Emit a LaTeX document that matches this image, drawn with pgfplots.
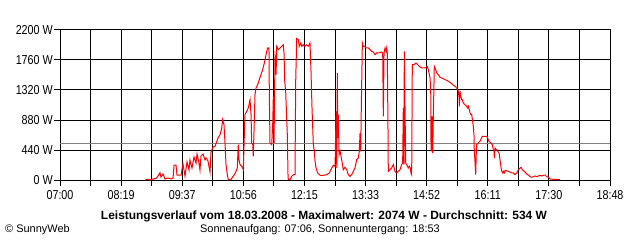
\documentclass[border=0pt]{standalone}
\usepackage{fontspec}
\setmainfont{Liberation Sans}
\newfontfamily\narrowfont{Liberation Sans}[FakeStretch=0.83]
\usepackage{pgfplots}
\pgfplotsset{compat=1.18}
\begin{document}
\begin{tikzpicture}[x=1bp,y=1bp]
\useasboundingbox (0,0) rectangle (640,240);
\begin{axis}[
  at={(60bp,60bp)}, anchor=south west,
  scale only axis, width=550bp, height=150bp,
  xmin=0, xmax=708, ymin=0, ymax=2200,
  xtick={0,39.333,78.667,118,157.333,196.667,236,275.333,314.667,354,393.333,432.667,472,511.333,550.667,590,629.333,668.667,708},
  xticklabels={07:00,{},08:19,{},09:37,{},10:56,{},12:15,{},13:33,{},14:52,{},16:11,{},17:30,{},18:48},
  ytick={0,440,880,1320,1760,2200},
  yticklabels={0 W,440 W,880 W,1320 W,1760 W,2200 W},
  xtick pos=lower, ytick pos=left,
  tick align=outside, major tick length=6bp,
  grid=major, major grid style={black, line width=1bp},
  axis line style={black, line width=1bp},
  tick style={black, line width=1bp},
  tick label style={font=\narrowfont\fontsize{13}{15}\selectfont},
  xticklabel style={inner sep=1bp, yshift=-3bp},
  yticklabel style={inner sep=1bp},
  axis on top=false,
]
\addplot[gray, line width=1bp, no markers] coordinates {(0,534) (708,534)};
\addplot[red, line width=1bp, no markers] coordinates {
(109.4,0) (113.3,10) (115.9,0) (119.7,15) (123.6,22) (126.2,59) (128.7,107) (130.0,44) (132.6,88) (135.2,15) (139.0,29) (142.9,15) (145.5,29) (146.8,220) (149.3,220) (150.6,73) (155.8,73) (158.3,235) (160.9,59) (163.5,264) (166.1,147) (167.3,293) (169.9,176) (172.5,337) (175.1,249) (176.4,381) (178.9,249) (180.2,147) (181.5,352) (184.1,381) (186.7,293) (188.0,323) (190.5,279) (193.1,117) (194.4,411) (197.0,484) (199.5,494) (202.1,572) (203.8,626) (206.0,664) (208.1,758) (209.4,885) (211.1,811) (212.4,543) (213.7,225) (215.4,78) (216.7,5) (220.1,5) (221.8,40) (224.4,78) (226.6,127) (228.2,176) (229.5,518) (230.4,298) (231.7,225) (233.9,201) (236.0,151) (236.9,518) (238.1,958) (240.3,1008) (242.4,1056) (243.7,1129) (244.6,1178) (245.9,958) (246.8,543) (248.1,518) (248.8,347) (250.1,861) (251.0,1251) (252.3,1349) (254.5,1398) (256.5,1471) (258.7,1545) (260.9,1618) (263.0,1716) (264.8,1814) (266.1,1887) (267.4,1936) (269.0,1936) (269.4,1324) (270.3,543) (272.5,518) (273.8,811) (274.6,1227) (275.5,543) (276.8,1838) (277.7,1789) (278.1,1545) (279.0,1961) (281.0,1911) (283.2,1936) (285.4,1961) (287.4,1984) (288.4,1858) (289.3,1447) (290.5,1301) (291.8,909) (292.6,664) (293.5,78) (293.9,5) (296.1,5) (298.2,54) (300.3,78) (302.5,78) (303.4,1447) (304.7,2074) (306.8,2058) (308.0,1961) (309.9,2009) (311.2,1961) (313.3,1984) (315.4,1961) (317.6,1984) (319.6,1961) (321.8,2009) (323.1,1594) (324.4,1056) (326.1,518) (327.4,421) (328.3,274) (329.6,176) (331.7,103) (334.7,69) (339.0,69) (343.3,78) (346.7,103) (349.8,176) (351.9,215) (354.1,201) (355.4,1008) (356.3,176) (357.0,1570) (357.5,616) (358.3,958) (359.2,371) (360.5,421) (362.6,298) (364.7,151) (366.9,186) (369.1,151) (371.1,78) (373.3,54) (375.5,78) (377.6,127) (379.7,176) (381.9,298) (384.0,323) (385.3,421) (386.2,689) (387.1,421) (387.9,1104) (389.2,2009) (390.5,1961) (392.6,1961) (393.9,1936) (396.9,1936) (399.1,1911) (401.3,1887) (403.3,1877) (405.5,1838) (407.7,1863) (409.7,1863) (414.1,1877) (415.4,1863) (416.2,934) (417.1,1863) (418.4,1936) (419.7,1887) (420.5,1936) (421.3,1863) (422.2,763) (422.6,127) (424.8,151) (426.9,176) (429.1,225) (431.2,127) (433.4,103) (435.5,127) (437.7,151) (439.8,225) (441.1,249) (441.9,1056) (442.8,225) (443.2,1887) (444.1,1081) (445.0,249) (446.3,225) (448.3,176) (449.6,201) (450.9,176) (451.8,103) (452.7,78) (453.5,1691) (455.7,1691) (458.3,1716) (460.5,1691) (462.5,1667) (465.6,1643) (468.6,1643) (471.1,1653) (472.8,1667) (474.1,1618) (475.0,1570) (476.3,1496) (477.2,1349) (477.6,469) (478.0,421) (478.9,934) (479.8,396) (480.6,958) (481.4,1398) (481.8,1667) (483.6,1618) (484.9,1570) (487.0,1545) (489.2,1506) (491.4,1496) (493.4,1486) (495.6,1471) (497.8,1462) (499.9,1447) (502.0,1432) (504.2,1413) (506.3,1393) (508.5,1374) (510.7,1349) (512.0,1324) (512.8,1301) (513.7,1203) (514.1,1081) (514.9,1301) (515.8,1227) (517.1,1178) (517.9,1178) (519.2,1129) (521.3,1104) (523.5,1081) (524.8,1056) (525.6,1081) (526.9,1031) (527.8,983) (529.1,958) (530.0,958) (531.2,861) (532.0,788) (532.9,664) (533.3,421) (534.2,274) (535.1,78) (535.9,421) (536.3,518) (538.4,543) (540.6,567) (543.6,641) (549.2,641) (550.5,616) (552.2,567) (554.8,543) (556.5,518) (557.8,445) (558.7,421) (559.1,323) (560.0,469) (561.3,445) (562.2,445) (563.5,421) (565.2,396) (566.4,298) (567.8,176) (568.7,127) (570.0,103) (570.7,127) (572.0,103) (572.9,136) (575.1,136) (577.1,127) (579.3,117) (581.5,103) (583.6,103) (585.7,78) (587.9,103) (590.0,151) (592.2,176) (593.5,186) (595.1,151) (597.7,127) (600.8,88) (602.8,73) (605.0,49) (607.2,40) (609.3,49) (611.5,59) (613.7,49) (615.7,59) (617.9,69) (620.1,59) (622.2,69) (624.3,73) (626.5,49) (628.6,40) (630.8,15) (635.0,10) (639.4,10) (641.5,10) (643.6,5)
};
\end{axis}
\node[font=\bfseries\fontsize{12}{14}\selectfont, inner sep=0pt] at (324,24) {Leistungsverlauf vom 18.03.2008 - Maximalwert: 2074 W - Durchschnitt: 534 W};
\node[font=\fontsize{11}{13}\selectfont, inner sep=0pt] at (320,10.5) {Sonnenaufgang: 07:06, Sonnenuntergang: 18:53};
\node[font=\fontsize{11}{13}\selectfont, inner sep=0pt, anchor=west] at (5,10.5) {\textcopyright\ SunnyWeb};
\end{tikzpicture}
\end{document}
